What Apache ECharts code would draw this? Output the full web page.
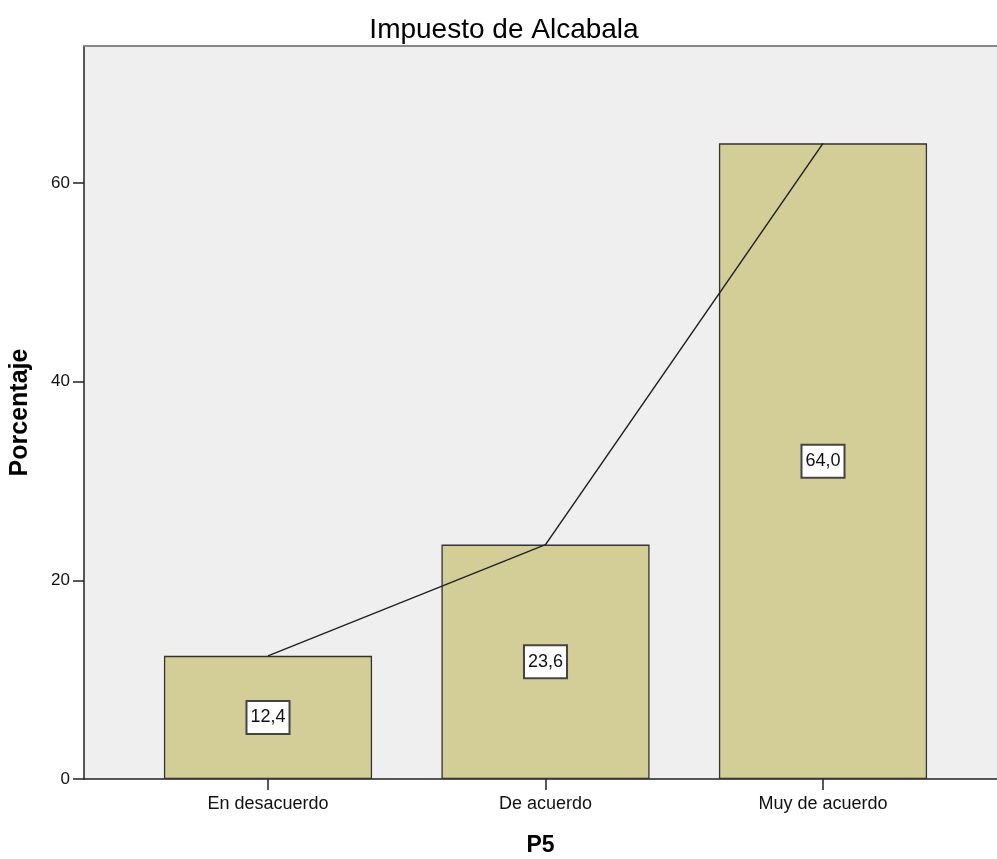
<!DOCTYPE html>
<html>
<head>
<meta charset="utf-8">
<script src="https://cdn.jsdelivr.net/npm/echarts@6/dist/echarts.min.js"></script>
<style>
html,body{margin:0;padding:0;background:#fff;}
#chart{width:997px;height:859px;}
</style>
</head>
<body>
<div id="chart"></div>
<script>
const categories = ["En desacuerdo", "De acuerdo", "Muy de acuerdo"];
const percentages = [12.4, 23.6, 64.0];
const yTicks = [0, 20, 40, 60];
const titleText = "Impuesto de Alcabala";
const xName = "P5";
const yName = "Porcentaje";

const fmt = v => v.toFixed(1).replace('.', ',');
const FONT = '"Liberation Sans", Arial, sans-serif';
const YMAX = 73.8;

const chart = echarts.init(document.getElementById('chart'), null, {renderer: 'canvas'});
chart.setOption({
  animation: false,
  backgroundColor: '#ffffff',
  title: {
    text: titleText,
    left: 499,
    top: 11,
    textAlign: 'center',
    textStyle: {fontFamily: FONT, fontSize: 28, fontWeight: 'normal', color: '#000'}
  },
  grid: [
    {left: 84, top: 46, right: 0, height: 733, show: true, backgroundColor: '#efefef', borderWidth: 0, outerBoundsMode: 'none', containLabel: false},
    {left: 129.25, top: 46, width: 832.5, height: 733, outerBoundsMode: 'none', containLabel: false}
  ],
  xAxis: [
    {
      gridIndex: 0, type: 'value', min: 0, max: 1, position: 'bottom',
      axisLine: {show: true, lineStyle: {color: '#222', width: 1.5}},
      axisTick: {show: false}, axisLabel: {show: false}, splitLine: {show: false},
      name: xName, nameLocation: 'middle', nameGap: 55,
      nameTextStyle: {fontFamily: FONT, fontSize: 23, fontWeight: 'bold', color: '#000'}
    },
    {
      gridIndex: 0, type: 'value', min: 0, max: 1, position: 'top',
      axisLine: {show: true, lineStyle: {color: '#888', width: 2}},
      axisTick: {show: false}, axisLabel: {show: false}, splitLine: {show: false}
    },
    {
      gridIndex: 1, type: 'category', data: categories, position: 'bottom',
      axisLine: {show: false},
      axisTick: {show: true, alignWithLabel: true, length: 11, lineStyle: {color: '#222', width: 1.5}},
      axisLabel: {fontFamily: FONT, fontSize: 18, color: '#111', margin: 16}
    }
  ],
  yAxis: [
    {
      gridIndex: 0, type: 'value', min: 0, max: YMAX,
      axisLine: {show: true, lineStyle: {color: '#222', width: 1.5}},
      axisTick: {show: true, length: 11, customValues: yTicks, lineStyle: {color: '#222', width: 1.5}},
      axisLabel: {fontFamily: FONT, fontSize: 17, color: '#111', margin: 14, customValues: yTicks},
      splitLine: {show: false},
      name: yName, nameLocation: 'middle', nameGap: 51,
      nameTextStyle: {fontFamily: FONT, fontSize: 25, fontWeight: 'bold', color: '#000'}
    },
    {
      gridIndex: 1, type: 'value', min: 0, max: YMAX, show: false
    }
  ],
  series: [
    {
      type: 'bar', xAxisIndex: 2, yAxisIndex: 1, data: percentages,
      barCategoryGap: '25%',
      itemStyle: {color: '#d3ce97', borderColor: '#333', borderWidth: 1.3},
      label: {
        show: true, position: 'inside', formatter: p => fmt(p.value),
        fontFamily: FONT, fontSize: 18, color: '#111',
        backgroundColor: '#ffffff', borderColor: '#444', borderWidth: 2,
        padding: [7, 3, 6, 3]
      },
      z: 2
    },
    {
      type: 'line', xAxisIndex: 2, yAxisIndex: 1, data: percentages,
      symbol: 'none', lineStyle: {color: '#222', width: 1.5}, z: 3
    }
  ]
});
</script>
</body>
</html>
